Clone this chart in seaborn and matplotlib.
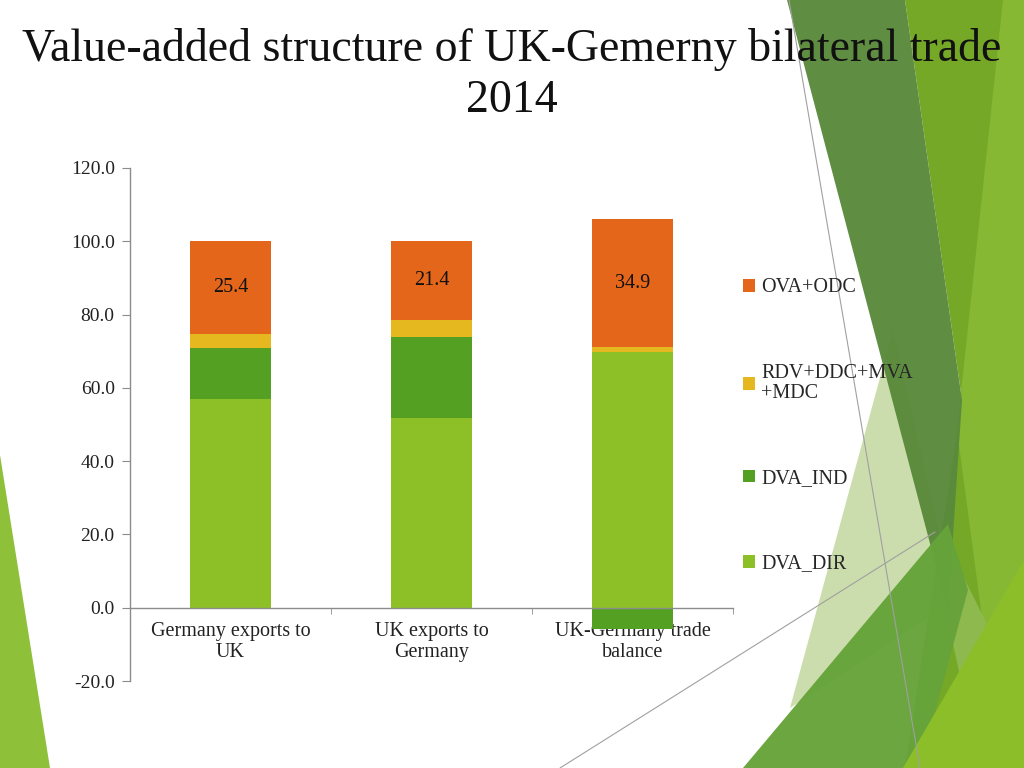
import numpy as np
import pandas as pd
import matplotlib
matplotlib.use("Agg")
import matplotlib.pyplot as plt
from matplotlib.patches import Polygon, Patch
from matplotlib.lines import Line2D
import seaborn as sns

# -------- Data --------
CATEGORIES = ["Germany exports to\nUK", "UK exports to\nGermany", "UK-Germany trade\nbalance"]
DVA_DIR = [57.0, 51.8, 69.8]
DVA_IND = [14.0, 22.1, -5.7]
RDV_DDC_MVA_MDC = [3.7, 4.7, 1.3]
OVA_ODC = [25.4, 21.4, 34.9]
SERIES_NAMES = ["DVA_DIR", "DVA_IND", "RDV+DDC+MVA\n+MDC", "OVA+ODC"]
Y_TICKS = [-20, 0, 20, 40, 60, 80, 100, 120]
TITLE = "Value-added structure of UK-Gemerny bilateral trade\n2014"
# ----------------------

COLORS = ["#8DC026", "#54A022", "#E4B81E", "#E4661A"]
W, H = 1024, 768


def px_poly(pts, **kw):
    # pixel coords (from top-left) -> figure fraction
    xy = [(x / W, 1 - y / H) for x, y in pts]
    return Polygon(xy, closed=True, transform=fig.transFigure, lw=0, **kw)


sns.set_style("white")
plt.rcParams["font.family"] = ["Liberation Serif", "DejaVu Serif"]

fig = plt.figure(figsize=(10.24, 7.68), dpi=100)

# background decoration (slide theme)
deco = [
    ([(0, 455), (0, 768), (50, 768)], "#8EC03A", 1.0),
    ([(893, 330), (955, 600), (790, 708)], "#C9DCA8", 0.95),
    ([(905, 0), (1024, 0), (1024, 768), (905, 768), (962, 400)], "#76A828", 1.0),
    ([(1003, 0), (1024, 0), (1024, 560), (985, 640), (957, 430)], "#86B834", 1.0),
    ([(955, 560), (990, 630), (965, 700), (948, 620)], "#8DB94E", 1.0),
    ([(787, 0), (905, 0), (962, 400), (948, 612)], "#5A8A3C", 0.97),
    ([(743, 768), (948, 524), (968, 590), (920, 768)], "#66A33A", 0.97),
    ([(903, 768), (1024, 560), (1024, 768)], "#8CBE2A", 1.0),
]
for pts, c, a in deco:
    fig.patches.append(px_poly(pts, facecolor=c, alpha=a, zorder=-5))
for (x0, y0), (x1, y1) in [((789, 0), (920, 768)), ((560, 768), (935, 532))]:
    fig.lines.append(Line2D([x0 / W, x1 / W], [1 - y0 / H, 1 - y1 / H],
                            transform=fig.transFigure, color="#A0A0A0", lw=0.8, zorder=-4))

ax = fig.add_axes([130 / W, 1 - 681 / H, (733 - 130) / W, (681 - 168) / H])
ax.set_facecolor("none")

layers = [DVA_DIR, DVA_IND, RDV_DDC_MVA_MDC, OVA_ODC]
pos = np.zeros(len(CATEGORIES))
neg = np.zeros(len(CATEGORIES))
for vals, color in zip(layers, COLORS):
    vals = np.array(vals, dtype=float)
    bottom = np.where(vals >= 0, pos, neg)
    df = pd.DataFrame({"category": CATEGORIES, "value": vals})
    sns.barplot(data=df, x="category", y="value", bottom=bottom, color=color,
                saturation=1, width=0.4, errorbar=None, linewidth=0,
                edgecolor="none", ax=ax)
    pos += np.clip(vals, 0, None)
    neg += np.clip(vals, None, 0)

ax.bar_label(ax.containers[-1], labels=[f"{v:.1f}" for v in OVA_ODC],
             label_type="center", fontsize=14.5, color="#111111")

ax.set_ylim(-20, 120)
ax.set_xlim(-0.5, 2.5)
ax.set_yticks(Y_TICKS)
ax.set_yticklabels([f"{v:.1f}" for v in Y_TICKS])
ax.set_xlabel("")
ax.set_ylabel("")

for s in ["top", "right"]:
    ax.spines[s].set_visible(False)
ax.spines["bottom"].set_position(("data", 0))
for s in ["left", "bottom"]:
    ax.spines[s].set_color("#8C8C8C")
    ax.spines[s].set_linewidth(1.0)

ax.tick_params(axis="y", which="major", direction="out", length=6, color="#8C8C8C",
               labelsize=14, labelcolor="#222222", left=True, pad=5)
ax.tick_params(axis="x", which="major", length=0, labelsize=14.5, labelcolor="#222222", pad=10)
for t in ax.get_xticklabels():
    t.set_linespacing(1.15)
ax.set_xticks([-0.5, 0.5, 1.5, 2.5], minor=True)
ax.tick_params(axis="x", which="minor", direction="out", length=4.5, color="#8C8C8C", bottom=True)

handles = [Patch(facecolor=c, edgecolor="none") for c in COLORS][::-1]
leg = fig.legend(handles, SERIES_NAMES[::-1], loc="center left",
                 bbox_to_anchor=(743 / W, 1 - 426 / H), frameon=False, fontsize=14.5,
                 handlelength=0.6, handleheight=0.6, handletextpad=0.3,
                 labelspacing=3.3, borderpad=0, borderaxespad=0)
for t in leg.get_texts():
    t.set_linespacing(1.05)

fig.text(0.5, 1 - 28 / H, TITLE, ha="center", va="top", fontsize=33,
         linespacing=1.25, color="#111111")

fig.savefig("out.png", dpi=100)
